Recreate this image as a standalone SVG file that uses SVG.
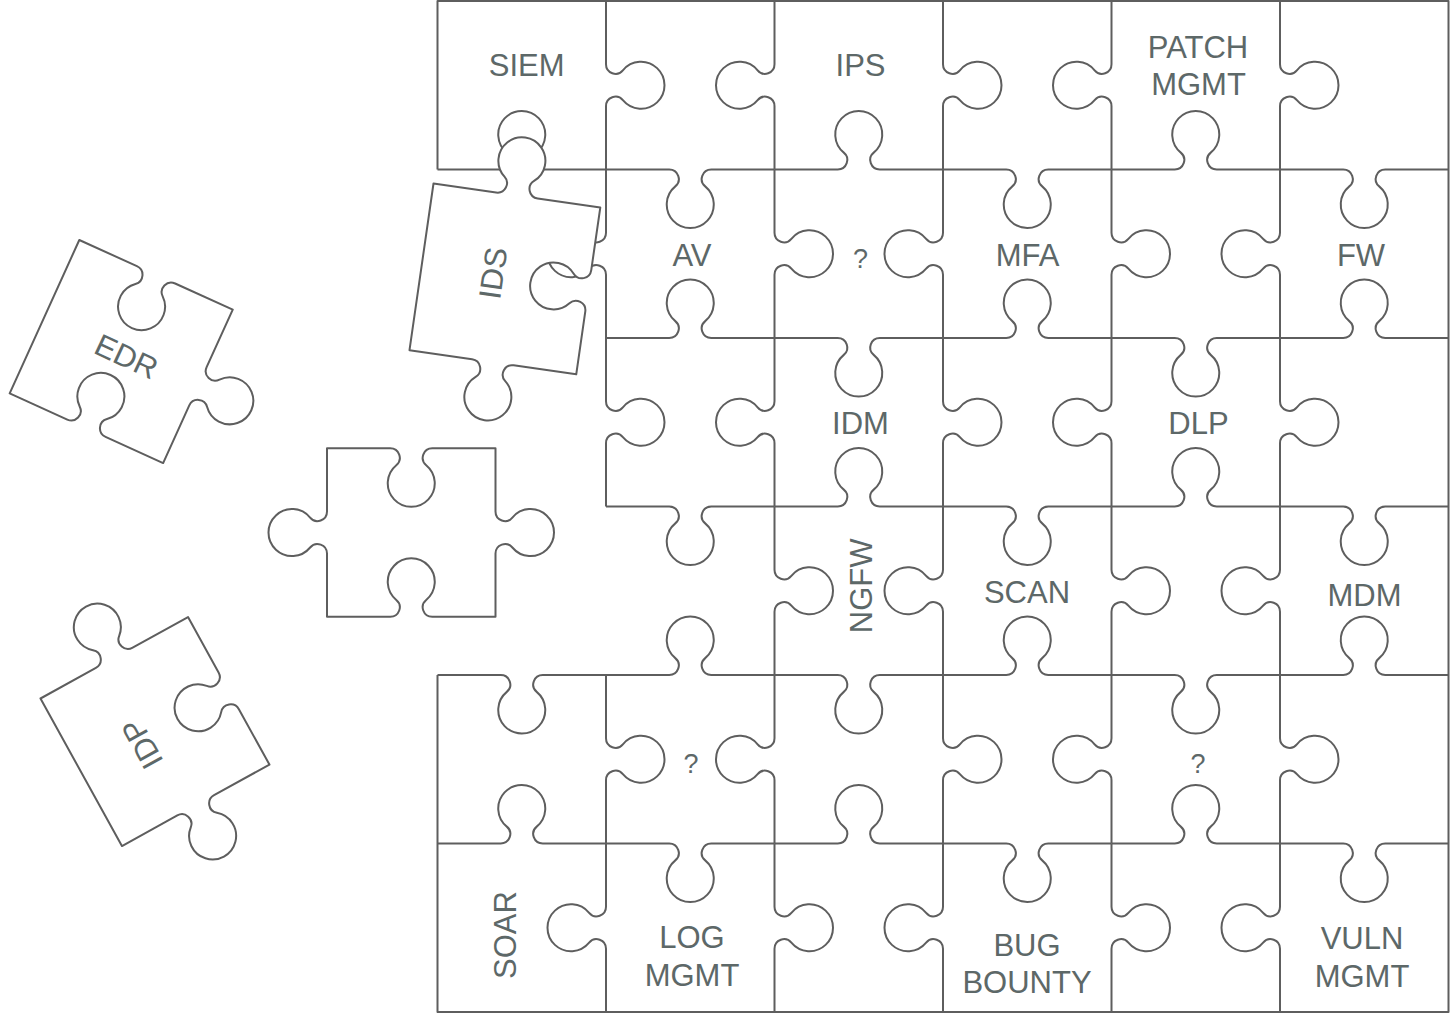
<svg xmlns="http://www.w3.org/2000/svg" xmlns:xlink="http://www.w3.org/1999/xlink" width="1451" height="1014" viewBox="0 0 1451 1014">
<style>
.e{fill:none;stroke:#5e5e5e;stroke-width:2;stroke-linejoin:round}
.pc{fill:#ffffff;stroke:#5e5e5e;stroke-width:2;stroke-linejoin:round}
.lb{font-family:"Liberation Sans",Arial,sans-serif;font-size:31px;fill:#5d6868;text-anchor:middle}
.q{font-size:27px}
</style>
<defs>
<path id="t" d="M0,0 H63.25 A9.52,9.52 0 0 0 69.3,-16.87 A23.5,23.5 0 1 1 99.2,-16.87 A9.52,9.52 0 0 0 105.25,0 H168.5"/>
<path id="pA" d="M0,0 H63.25 A9.52,9.52 0 0 0 69.3,-16.87 A23.5,23.5 0 1 1 99.2,-16.87 A9.52,9.52 0 0 0 105.25,0 H168.5 V63.25 A9.52,9.52 0 0 1 151.63,69.3 A23.5,23.5 0 1 0 151.63,99.2 A9.52,9.52 0 0 1 168.5,105.25 V168.5 H105.25 A9.52,9.52 0 0 0 99.2,185.37 A23.5,23.5 0 1 1 69.3,185.37 A9.52,9.52 0 0 0 63.25,168.5 H0 Z"/>
<path id="pE" d="M0,0 H63.25 A9.52,9.52 0 0 1 69.3,16.87 A23.5,23.5 0 1 0 99.2,16.87 A9.52,9.52 0 0 1 105.25,0 H168.5 V63.25 A9.52,9.52 0 0 0 185.37,69.3 A23.5,23.5 0 1 1 185.37,99.2 A9.52,9.52 0 0 0 168.5,105.25 V168.5 H105.25 A9.52,9.52 0 0 1 99.2,151.63 A23.5,23.5 0 1 0 69.3,151.63 A9.52,9.52 0 0 1 63.25,168.5 H0 Z"/>
<path id="pB" d="M0,0 H63.25 A9.52,9.52 0 0 1 69.3,16.87 A23.5,23.5 0 1 0 99.2,16.87 A9.52,9.52 0 0 1 105.25,0 H168.5 V63.25 A9.52,9.52 0 0 0 185.37,69.3 A23.5,23.5 0 1 1 185.37,99.2 A9.52,9.52 0 0 0 168.5,105.25 V168.5 H105.25 A9.52,9.52 0 0 1 99.2,151.63 A23.5,23.5 0 1 0 69.3,151.63 A9.52,9.52 0 0 1 63.25,168.5 H0 V105.25 A9.52,9.52 0 0 0 -16.87,99.2 A23.5,23.5 0 1 1 -16.87,69.3 A9.52,9.52 0 0 0 0,63.25 Z"/>
</defs>
<rect width="1451" height="1014" fill="#ffffff"/>
<g id="grid-edges" class="e">
<path d="M437.5,169.5 V1 H1448.5 V1012 H437.5 V675"/>
<use href="#t" transform="translate(437.5,169.5)"/>
<use href="#t" transform="translate(606,169.5) scale(1,-1)"/>
<use href="#t" transform="translate(774.5,169.5)"/>
<use href="#t" transform="translate(943,169.5) scale(1,-1)"/>
<use href="#t" transform="translate(1111.5,169.5)"/>
<use href="#t" transform="translate(1280,169.5) scale(1,-1)"/>
<use href="#t" transform="translate(606,338)"/>
<use href="#t" transform="translate(774.5,338) scale(1,-1)"/>
<use href="#t" transform="translate(943,338)"/>
<use href="#t" transform="translate(1111.5,338) scale(1,-1)"/>
<use href="#t" transform="translate(1280,338)"/>
<use href="#t" transform="translate(606,506.5) scale(1,-1)"/>
<use href="#t" transform="translate(774.5,506.5)"/>
<use href="#t" transform="translate(943,506.5) scale(1,-1)"/>
<use href="#t" transform="translate(1111.5,506.5)"/>
<use href="#t" transform="translate(1280,506.5) scale(1,-1)"/>
<use href="#t" transform="translate(437.5,675) scale(1,-1)"/>
<use href="#t" transform="translate(606,675)"/>
<use href="#t" transform="translate(774.5,675) scale(1,-1)"/>
<use href="#t" transform="translate(943,675)"/>
<use href="#t" transform="translate(1111.5,675) scale(1,-1)"/>
<use href="#t" transform="translate(1280,675)"/>
<use href="#t" transform="translate(437.5,843.5)"/>
<use href="#t" transform="translate(606,843.5) scale(1,-1)"/>
<use href="#t" transform="translate(774.5,843.5)"/>
<use href="#t" transform="translate(943,843.5) scale(1,-1)"/>
<use href="#t" transform="translate(1111.5,843.5)"/>
<use href="#t" transform="translate(1280,843.5) scale(1,-1)"/>
<use href="#t" transform="translate(606,1) rotate(90)"/>
<use href="#t" transform="translate(606,169.5) rotate(90) scale(1,-1)"/>
<use href="#t" transform="translate(606,338) rotate(90)"/>
<use href="#t" transform="translate(606,675) rotate(90)"/>
<use href="#t" transform="translate(606,843.5) rotate(90) scale(1,-1)"/>
<use href="#t" transform="translate(774.5,1) rotate(90) scale(1,-1)"/>
<use href="#t" transform="translate(774.5,169.5) rotate(90)"/>
<use href="#t" transform="translate(774.5,338) rotate(90) scale(1,-1)"/>
<use href="#t" transform="translate(774.5,506.5) rotate(90)"/>
<use href="#t" transform="translate(774.5,675) rotate(90) scale(1,-1)"/>
<use href="#t" transform="translate(774.5,843.5) rotate(90)"/>
<use href="#t" transform="translate(943,1) rotate(90)"/>
<use href="#t" transform="translate(943,169.5) rotate(90) scale(1,-1)"/>
<use href="#t" transform="translate(943,338) rotate(90)"/>
<use href="#t" transform="translate(943,506.5) rotate(90) scale(1,-1)"/>
<use href="#t" transform="translate(943,675) rotate(90)"/>
<use href="#t" transform="translate(943,843.5) rotate(90) scale(1,-1)"/>
<use href="#t" transform="translate(1111.5,1) rotate(90) scale(1,-1)"/>
<use href="#t" transform="translate(1111.5,169.5) rotate(90)"/>
<use href="#t" transform="translate(1111.5,338) rotate(90) scale(1,-1)"/>
<use href="#t" transform="translate(1111.5,506.5) rotate(90)"/>
<use href="#t" transform="translate(1111.5,675) rotate(90) scale(1,-1)"/>
<use href="#t" transform="translate(1111.5,843.5) rotate(90)"/>
<use href="#t" transform="translate(1280,1) rotate(90)"/>
<use href="#t" transform="translate(1280,169.5) rotate(90) scale(1,-1)"/>
<use href="#t" transform="translate(1280,338) rotate(90)"/>
<use href="#t" transform="translate(1280,506.5) rotate(90) scale(1,-1)"/>
<use href="#t" transform="translate(1280,675) rotate(90)"/>
<use href="#t" transform="translate(1280,843.5) rotate(90) scale(1,-1)"/>
</g>
<g id="grid-labels" class="lb">
<text id="siem" x="526.7" y="75.8">SIEM</text>
<text id="ips" x="860.5" y="76">IPS</text>
<g id="patch-mgmt"><text x="1198" y="57.5">PATCH</text><text x="1198.5" y="95">MGMT</text></g>
<text id="av" x="692" y="266">AV</text>
<text id="q1" class="q" x="860.5" y="268">?</text>
<text id="mfa" x="1027.5" y="266">MFA</text>
<text id="fw" x="1361" y="266">FW</text>
<text id="idm" x="860.5" y="434">IDM</text>
<text id="dlp" x="1198.5" y="434">DLP</text>
<text id="ngfw" transform="translate(860.8,585.8) rotate(-90)" x="0" y="11.3">NGFW</text>
<text id="scan" x="1027" y="602.7">SCAN</text>
<text id="mdm" x="1364.5" y="605.5">MDM</text>
<text id="q2" class="q" x="691" y="773.3">?</text>
<text id="q3" class="q" x="1198" y="773.3">?</text>
<text id="soar" transform="translate(505,935) rotate(-90)" x="0" y="11.3">SOAR</text>
<g id="log-mgmt"><text x="692" y="948.3">LOG</text><text x="692" y="986">MGMT</text></g>
<g id="bug-bounty"><text x="1027" y="956">BUG</text><text x="1027" y="993.3">BOUNTY</text></g>
<g id="vuln-mgmt"><text x="1362" y="949.3">VULN</text><text x="1362" y="987.3">MGMT</text></g>
</g>
<g id="piece-ids">
<use href="#pA" class="pc" transform="translate(433.5,183.5) rotate(8.2)"/>
<text class="lb" transform="translate(492.6,273) rotate(-81.8)" x="0" y="11.3">IDS</text>
</g>
<g id="piece-edr">
<use href="#pE" class="pc" transform="translate(79.3,240) rotate(24.4)"/>
<text class="lb" transform="translate(126.7,356) rotate(25)" x="0" y="11.3">EDR</text>
</g>
<g id="piece-blank">
<use href="#pB" class="pc" transform="translate(327,448.3)"/>
</g>
<g id="piece-idp">
<use href="#pA" class="pc" transform="translate(40.5,698.5) rotate(-28.9)"/>
<text class="lb" transform="translate(141.7,744) rotate(-118.9)" x="0" y="11.3">IDP</text>
</g>
</svg>
